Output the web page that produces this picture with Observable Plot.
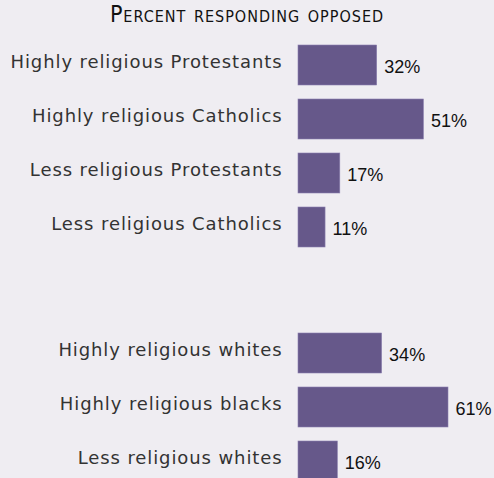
<!DOCTYPE html>
<html>
<head>
<meta charset="utf-8">
<script src="https://cdn.jsdelivr.net/npm/d3@7"></script>
<script src="https://cdn.jsdelivr.net/npm/@observablehq/plot@0.6"></script>
<style>
  html, body { margin: 0; padding: 0; background: #efedf2; overflow: hidden; }
  #wrap { width: 494px; height: 478px; overflow: hidden; position: relative; }
  #title { position: absolute; top: 1px; left: 0; width: 494px; text-align: center;
    font-family: "Liberation Sans Narrow", "DejaVu Sans Condensed", sans-serif;
    font-variant: small-caps; font-size: 23px; color: #111; letter-spacing: 1px; }
  #p1 { position: absolute; top: 37px; left: 0; }
  #p2 { position: absolute; top: 325px; left: 0; }
  g[font-family="DejaVu Sans"] { letter-spacing: 0.9px; }
</style>
</head>
<body>
<div id="wrap">
  <div id="title">Percent responding opposed</div>
  <div id="p1"></div>
  <div id="p2"></div>
</div>
<script>
const groupA = ["Highly religious Protestants", "Highly religious Catholics", "Less religious Protestants", "Less religious Catholics"];
const valuesA = [32, 51, 17, 11];
const groupB = ["Highly religious whites", "Highly religious blacks", "Less religious whites"];
const valuesB = [34, 61, 16];
const xMax = 61;

function chart(labels, values) {
  const data = labels.map((label, i) => ({label, value: values[i]}));
  const rowH = 54.3;
  return Plot.plot({
    width: 494,
    height: Math.round(rowH * labels.length),
    marginLeft: 298,
    marginRight: 46,
    marginTop: 0,
    marginBottom: 0,
    style: {background: "transparent", overflow: "visible"},
    x: {domain: [0, xMax], axis: null},
    y: {domain: labels, axis: null, paddingInner: 0.26, paddingOuter: 0.13},
    marks: [
      Plot.barX(data, {x: "value", y: "label", fill: "#66588a", stroke: "#8a7fae", strokeWidth: 0.6}),
      Plot.text(data, {x: 0, y: "label", text: "label", textAnchor: "end", dx: -16, dy: -3,
        fontSize: 18, fill: "#333", fontFamily: "DejaVu Sans"}),
      Plot.text(data, {x: "value", y: "label", text: d => d.value + "%", textAnchor: "start", dx: 7, dy: 2,
        fontSize: 18, fill: "#111", fontFamily: "Liberation Sans, Arial, sans-serif"})
    ]
  });
}
document.getElementById("p1").appendChild(chart(groupA, valuesA));
document.getElementById("p2").appendChild(chart(groupB, valuesB));
</script>
</body>
</html>
